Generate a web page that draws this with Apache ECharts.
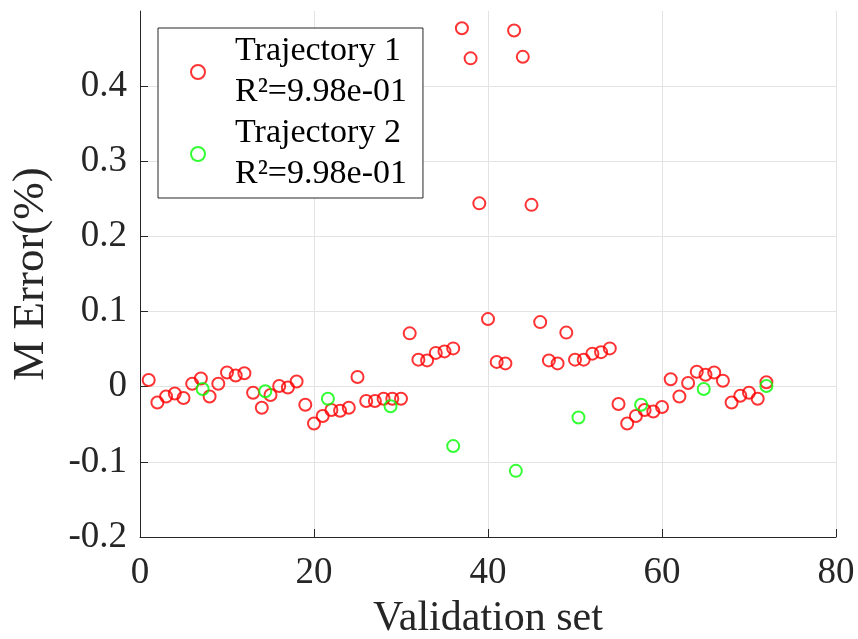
<!DOCTYPE html>
<html>
<head>
<meta charset="utf-8">
<script src="https://cdn.jsdelivr.net/npm/echarts@6/dist/echarts.min.js"></script>
<style>
  html, body { margin: 0; padding: 0; background: #fff; }
  #chart { width: 858px; height: 639px; }
</style>
</head>
<body>
<div id="chart"></div>
<script>
// validation set index for trajectory 1
var setT1 = [1, 2, 3, 4, 5, 6, 7, 8, 9, 10, 11, 12, 13, 14, 15, 16, 17, 18,
  19, 20, 21, 22, 23, 24, 25, 26, 27, 28, 29, 30, 31, 32, 33, 34, 35, 36,
  37, 38, 39, 40, 41, 42, 43, 44, 45, 46, 47, 48, 49, 50, 51, 52, 53, 54,
  55, 56, 57, 58, 59, 60, 61, 62, 63, 64, 65, 66, 67, 68, 69, 70, 71, 72];
var errT1 = [0.009, -0.021, -0.013, -0.009, -0.015, 0.004, 0.011, -0.013, 0.004,
  0.019, 0.015, 0.018, -0.008, -0.028, -0.011, 0.001, -0.001, 0.007,
  -0.024, -0.049, -0.039, -0.031, -0.032, -0.028, 0.013, -0.019, -0.019,
  -0.016, -0.016, -0.016, 0.071, 0.036, 0.035, 0.045, 0.047, 0.051,
  0.477, 0.437, 0.244, 0.090, 0.033, 0.031, 0.474, 0.439, 0.242,
  0.086, 0.035, 0.031, 0.072, 0.036, 0.036, 0.044, 0.046, 0.051,
  -0.023, -0.049, -0.039, -0.031, -0.033, -0.027, 0.010, -0.013, 0.005,
  0.020, 0.016, 0.019, 0.008, -0.021, -0.012, -0.008, -0.016, 0.006];

var setT2 = [7.2, 14.4, 21.6, 28.8, 36, 43.2, 50.4, 57.6, 64.8, 72];
var errT2 = [-0.003, -0.006, -0.016, -0.026, -0.079, -0.112, -0.041, -0.024, -0.003, 0.001];

var seriesNames = ['Trajectory 1', 'Trajectory 2'];
var r2Labels = ['R\u00b2=9.98e-01', 'R\u00b2=9.98e-01'];
var colors = ['#ff0000', '#00ff00'];

var FONT = '"Liberation Serif", "Times New Roman", serif';

var dom = document.getElementById('chart');
var myChart = echarts.init(dom, null, { renderer: 'canvas' });

function pairs(xs, ys) {
  return xs.map(function (x, i) { return [x, ys[i]]; });
}

function scatter(idx, data) {
  return {
    name: seriesNames[idx],
    type: 'scatter',
    data: data,
    symbol: 'circle',
    symbolSize: 12,
    itemStyle: {
      color: 'rgba(255,255,255,0)',
      borderColor: colors[idx],
      borderWidth: 2
    },
    emphasis: { disabled: true }
  };
}

option = {
  animation: false,
  backgroundColor: '#fff',
  grid: {
    left: 140,
    right: 22,
    top: 11,
    bottom: 102,
    containLabel: false,
    outerBoundsMode: 'none'
  },
  legend: {
    orient: 'vertical',
    left: 158,
    top: 28,
    padding: [3, 16, 3, 32],
    itemGap: 0,
    itemWidth: 14,
    itemHeight: 14,
    icon: 'circle',
    borderColor: '#262626',
    borderWidth: 1,
    backgroundColor: '#fff',
    data: seriesNames,
    formatter: function (name) {
      return name + '\n' + r2Labels[seriesNames.indexOf(name)];
    },
    textStyle: {
      fontFamily: FONT,
      fontSize: 34,
      lineHeight: 41,
      color: '#000',
      padding: [0, 0, 0, 25]
    }
  },
  xAxis: {
    type: 'value',
    min: 0,
    max: 80,
    interval: 20,
    name: 'Validation set',
    nameLocation: 'middle',
    nameGap: 61,
    nameTextStyle: { fontFamily: FONT, fontSize: 42, color: '#262626' },
    axisLine: { onZero: false, lineStyle: { color: '#262626', width: 1 } },
    axisTick: { inside: true, length: 8, lineStyle: { color: '#262626' } },
    axisLabel: { fontFamily: FONT, fontSize: 37, color: '#262626', margin: 18 },
    splitLine: { show: true, lineStyle: { color: '#e3e3e3', width: 1 } }
  },
  yAxis: {
    type: 'value',
    min: -0.2,
    max: 0.5,
    interval: 0.1,
    name: 'M Error(%)',
    nameLocation: 'middle',
    nameGap: 86,
    nameTextStyle: { fontFamily: FONT, fontSize: 45, color: '#262626' },
    axisLine: { show: true, onZero: false, lineStyle: { color: '#262626', width: 1 } },
    axisTick: { show: true, inside: true, length: 8, lineStyle: { color: '#262626' } },
    axisLabel: {
      fontFamily: FONT,
      fontSize: 37,
      color: '#262626',
      margin: 13,
      showMaxLabel: false,
      formatter: function (v) {
        return Math.abs(v) < 1e-9 ? '0' : v.toFixed(1);
      }
    },
    splitLine: { show: true, showMaxLine: false, lineStyle: { color: '#e3e3e3', width: 1 } }
  },
  series: [
    scatter(0, pairs(setT1, errT1)),
    scatter(1, pairs(setT2, errT2))
  ]
};

myChart.setOption(option);
</script>
</body>
</html>
